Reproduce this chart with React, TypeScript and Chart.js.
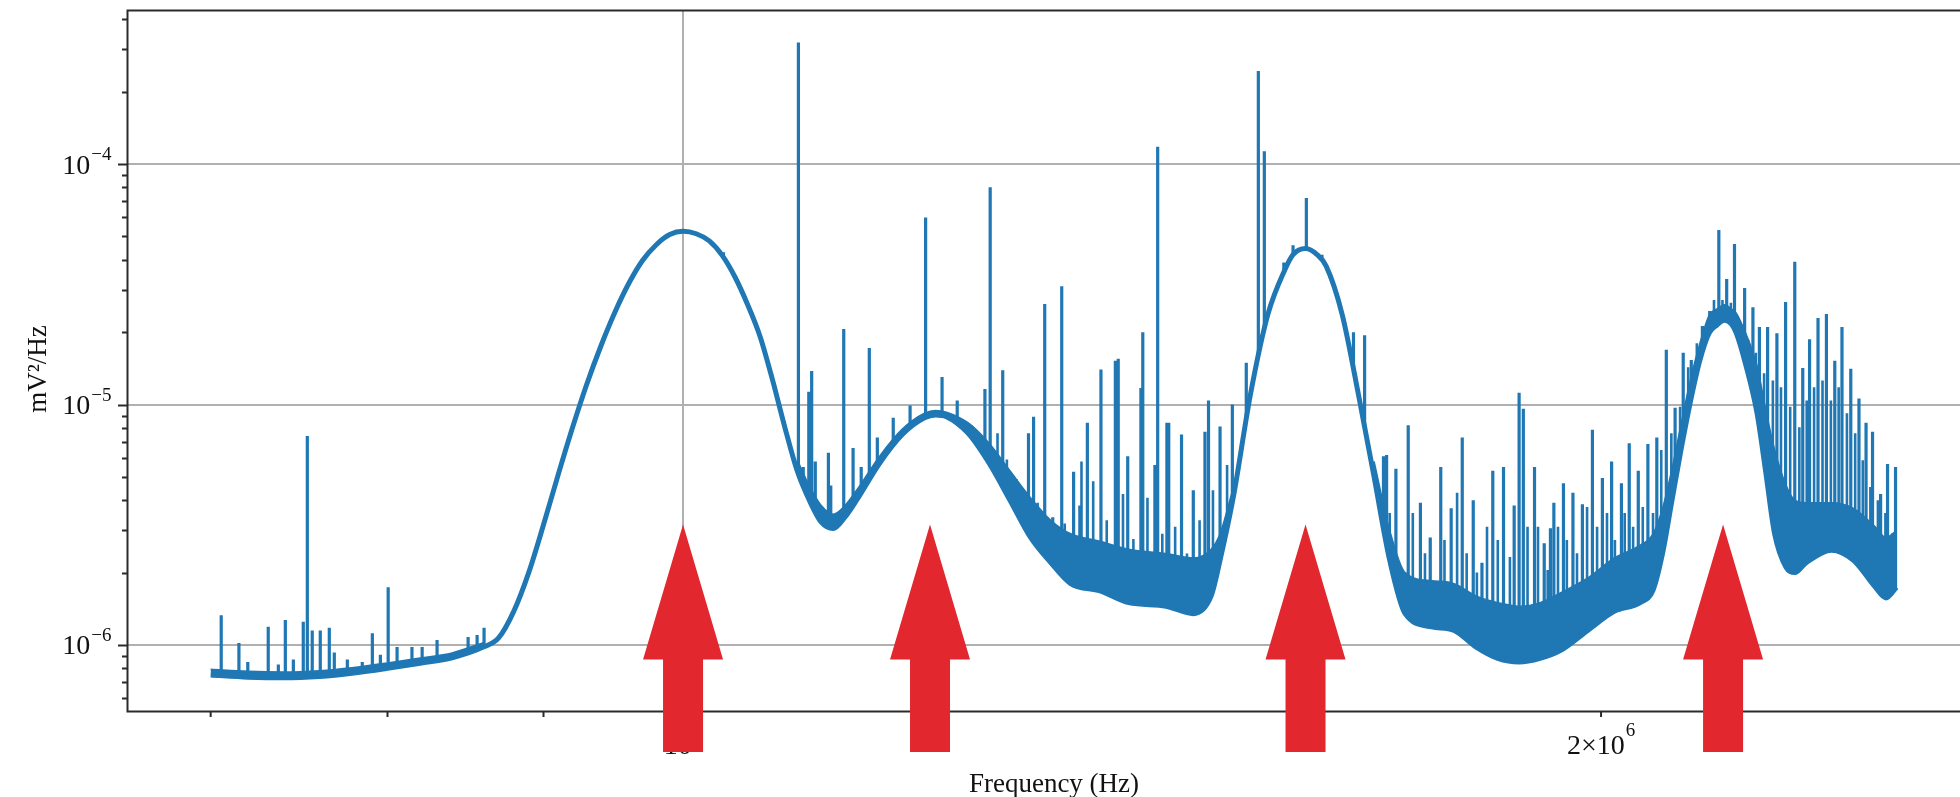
import React, { useEffect, useRef } from "react";
import { Chart, registerables } from "chart.js";

Chart.register(...registerables);

// ---------------- data ----------------
// smooth part of the spectrum
const baselineFreqHz = [
  0.7e6, 0.72e6, 0.74e6, 0.76e6, 0.78e6, 0.8e6, 0.82e6, 0.84e6, 0.86e6, 0.87e6,
  0.88e6, 0.89e6, 0.9e6, 0.91e6, 0.92e6, 0.93e6, 0.94e6, 0.95e6, 0.96e6, 0.97e6,
  0.98e6, 0.99e6, 1.0e6, 1.01e6, 1.02e6, 1.03e6, 1.04e6, 1.05e6, 1.06e6, 1.07e6,
  1.08e6, 1.09e6, 1.1e6, 1.11e6, 1.12e6, 1.13e6, 1.14e6, 1.16e6, 1.18e6, 1.2e6,
  1.21e6, 1.22e6, 1.24e6, 1.26e6, 1.28e6, 1.3e6, 1.32e6, 1.34e6, 1.37e6, 1.4e6,
  1.44e6, 1.47e6, 1.49e6, 1.5e6, 1.515e6, 1.535e6, 1.555e6, 1.575e6, 1.585e6, 1.6e6,
  1.614e6, 1.625e6, 1.645e6, 1.665e6, 1.685e6, 1.705e6, 1.725e6, 1.76e6, 1.79e6, 1.82e6,
  1.85e6, 1.88e6, 1.91e6, 1.94e6, 1.98e6, 2.02e6, 2.06e6, 2.08e6, 2.095e6, 2.11e6,
  2.125e6, 2.14e6, 2.155e6, 2.17e6, 2.183e6, 2.195e6, 2.207e6, 2.215e6, 2.23e6, 2.25e6,
  2.265e6, 2.28e6, 2.3e6, 2.315e6, 2.335e6, 2.38e6, 2.42e6, 2.46e6, 2.48e6, 2.5e6,
];
const baselinePsd = [
  7.5e-7, 7.35e-7, 7.3e-7, 7.4e-7, 7.65e-7, 8.0e-7, 8.4e-7, 8.85e-7, 9.8e-7, 1.07e-6,
  1.38e-6, 2.0e-6, 3.16e-6, 5.1e-6, 8.04e-6, 1.22e-5, 1.76e-5, 2.43e-5, 3.2e-5, 3.98e-5,
  4.62e-5, 5.09e-5, 5.25e-5, 5.13e-5, 4.79e-5, 4.17e-5, 3.39e-5, 2.6e-5, 1.91e-5, 1.26e-5,
  8.0e-6, 5.3e-6, 4.0e-6, 3.24e-6, 3.05e-6, 3.4e-6, 4.0e-6, 5.7e-6, 7.5e-6, 8.8e-6,
  9.05e-6, 8.9e-6, 7.6e-6, 5.7e-6, 4.0e-6, 2.8e-6, 2.2e-6, 1.8e-6, 1.68e-6, 1.5e-6,
  1.45e-6, 1.35e-6, 1.6e-6, 2.25e-6, 4.1e-6, 1.11e-5, 2.36e-5, 3.62e-5, 4.2e-5, 4.45e-5,
  4.2e-5, 3.77e-5, 2.36e-5, 1.11e-5, 5.0e-6, 2.25e-6, 1.35e-6, 1.19e-6, 1.15e-6, 9.8e-7,
  8.8e-7, 8.5e-7, 8.8e-7, 9.5e-7, 1.15e-6, 1.38e-6, 1.5e-6, 1.69e-6, 2.4e-6, 4.0e-6,
  6.6e-6, 1.04e-5, 1.53e-5, 1.98e-5, 2.14e-5, 2.24e-5, 2.16e-5, 1.98e-5, 1.49e-5, 9.2e-6,
  5.2e-6, 2.9e-6, 2.1e-6, 2.0e-6, 2.2e-6, 2.48e-6, 2.25e-6, 1.74e-6, 1.57e-6, 1.74e-6,
];

// top of the dense harmonic "grass" that sits on the curve
const grassLowFreqHz = [0.7e6, 0.72e6, 0.74e6, 0.76e6, 0.78e6, 0.8e6, 0.82e6, 0.84e6, 0.86e6];
const grassLowPsd = [7.9e-7, 7.75e-7, 7.7e-7, 7.8e-7, 8.05e-7, 8.4e-7, 8.8e-7, 9.25e-7, 1.02e-6];
const grassAFreqHz = [
  1.09e6, 1.1e6, 1.11e6, 1.12e6, 1.13e6, 1.14e6, 1.16e6, 1.18e6, 1.2e6, 1.21e6,
  1.22e6, 1.24e6, 1.26e6, 1.28e6, 1.3e6, 1.32e6, 1.34e6, 1.37e6, 1.4e6, 1.44e6,
  1.47e6, 1.49e6, 1.5e6, 1.515e6,
];
const grassAPsd = [
  5.9e-6, 4.6e-6, 3.8e-6, 3.5e-6, 3.8e-6, 4.4e-6, 6.1e-6, 7.9e-6, 9.2e-6, 9.45e-6,
  9.3e-6, 8.4e-6, 6.9e-6, 5.3e-6, 4.1e-6, 3.3e-6, 2.9e-6, 2.7e-6, 2.5e-6, 2.4e-6,
  2.3e-6, 2.5e-6, 2.9e-6, 4.5e-6,
];
const grassBFreqHz = [
  1.685e6, 1.705e6, 1.725e6, 1.76e6, 1.79e6, 1.82e6, 1.85e6, 1.88e6, 1.91e6, 1.94e6,
  1.98e6, 2.02e6, 2.06e6, 2.08e6, 2.095e6, 2.11e6, 2.125e6, 2.14e6, 2.155e6, 2.17e6,
  2.183e6, 2.195e6, 2.207e6, 2.215e6, 2.23e6, 2.25e6, 2.265e6, 2.28e6, 2.3e6, 2.315e6,
  2.335e6, 2.38e6, 2.42e6, 2.46e6, 2.48e6, 2.5e6,
];
const grassBPsd = [
  5.8e-6, 3.0e-6, 2.0e-6, 1.85e-6, 1.8e-6, 1.6e-6, 1.5e-6, 1.45e-6, 1.5e-6, 1.65e-6,
  1.9e-6, 2.3e-6, 2.6e-6, 2.9e-6, 3.7e-6, 5.4e-6, 8.4e-6, 1.28e-5, 1.8e-5, 2.35e-5,
  2.5e-5, 2.6e-5, 2.5e-5, 2.4e-5, 2.0e-5, 1.45e-5, 9.5e-6, 6.5e-6, 4.6e-6, 4.0e-6,
  3.9e-6, 3.9e-6, 3.7e-6, 3.1e-6, 2.8e-6, 3.0e-6,
];

// narrow spectral lines: frequency and top value
const spikeFreqHz = [
  0.7056e6, 0.7151e6, 0.7199e6, 0.7311e6, 0.7367e6, 0.7406e6, 0.7451e6, 0.7507e6, 0.753e6, 0.7558e6,
  0.7604e6, 0.7656e6, 0.7685e6, 0.7761e6, 0.7849e6, 0.7909e6, 0.7957e6, 0.8004e6, 0.8058e6, 0.8149e6,
  0.8212e6, 0.8305e6, 0.8502e6, 0.856e6, 0.8605e6,
  1.031e6,
  1.091e6, 1.095e6, 1.0996e6, 1.102e6, 1.105e6, 1.116e6, 1.118e6, 1.129e6, 1.137e6, 1.144e6,
  1.151e6, 1.158e6, 1.172e6, 1.187e6, 1.201e6, 1.216e6, 1.23e6, 1.243e6, 1.256e6, 1.261e6,
  1.273e6, 1.286e6, 1.298e6, 1.303e6, 1.314e6, 1.322e6, 1.331e6, 1.343e6, 1.357e6, 1.371e6,
  1.386e6, 1.389e6, 1.399e6, 1.413e6, 1.415e6, 1.428e6, 1.431e6, 1.441e6, 1.443e6, 1.457e6,
  1.47e6, 1.483e6, 1.487e6, 1.5e6, 1.514e6, 1.53e6, 1.544e6, 1.551e6, 1.574e6, 1.585e6,
  1.601e6, 1.62e6, 1.63e6, 1.659e6, 1.673e6, 1.697e6, 1.701e6, 1.713e6, 1.729e6, 1.745e6,
  1.758e6, 1.772e6, 1.786e6, 1.801e6, 1.816e6, 1.828e6, 1.843e6, 1.858e6, 1.873e6, 1.88e6,
  1.886e6, 1.902e6, 1.916e6, 1.925e6, 1.93e6, 1.944e6, 1.958e6, 1.972e6, 1.987e6, 2.002e6,
  2.016e6, 2.031e6, 2.043e6, 2.057e6, 2.072e6, 2.086e6, 2.101e6, 2.115e6, 2.128e6, 2.141e6,
  2.159e6, 2.171e6, 2.186e6, 2.199e6, 2.212e6, 2.229e6, 2.243e6, 2.254e6, 2.268e6, 2.284e6,
  2.299e6, 2.315e6, 2.329e6, 2.341e6, 2.356e6, 2.371e6, 2.386e6, 2.399e6, 2.415e6, 2.43e6,
  2.443e6, 2.455e6, 2.47e6, 2.483e6, 2.498e6,
];
const spikePsd = [
  1.33e-6, 1.02e-6, 8.5e-7, 1.19e-6, 8.3e-7, 1.27e-6, 8.7e-7, 1.25e-6, 7.4e-6, 1.15e-6,
  1.15e-6, 1.18e-6, 9.3e-7, 8.7e-7, 8.5e-7, 1.12e-6, 9.1e-7, 1.74e-6, 9.8e-7, 9.8e-7,
  9.8e-7, 1.05e-6, 1.08e-6, 1.1e-6, 1.18e-6,
  4.3e-5,
  3.2e-4, 5.5e-6, 1.13e-5, 1.38e-5, 5.8e-6, 6.3e-6, 4.6e-6, 2.06e-5, 6.6e-6, 5.5e-6,
  1.72e-5, 7.3e-6, 8.8e-6, 9.9e-6, 6.0e-5, 1.3e-5, 1.04e-5, 8.2e-6, 1.16e-5, 8.0e-5,
  1.39e-5, 4.9e-6, 7.6e-6, 8.9e-6, 2.62e-5, 3.4e-6, 3.1e-5, 5.25e-6, 8.4e-6, 1.4e-5,
  1.52e-5, 1.55e-5, 6.1e-6, 1.17e-5, 2.0e-5, 5.6e-6, 1.18e-4, 8.4e-6, 8.4e-6, 7.5e-6,
  4.4e-6, 7.7e-6, 1.04e-5, 8.1e-6, 1.0e-5, 1.49e-5, 2.44e-4, 1.13e-4, 3.9e-5, 4.6e-5,
  7.23e-5, 4.2e-5, 3.4e-5, 2.0e-5, 1.94e-5, 6.1e-6, 6.17e-6, 5.4e-6, 8.2e-6, 3.9e-6,
  2.8e-6, 5.5e-6, 3.7e-6, 7.3e-6, 4.0e-6, 2.2e-6, 5.3e-6, 5.5e-6, 3.8e-6, 1.12e-5,
  9.6e-6, 5.5e-6, 2.65e-6, 3.06e-6, 3.9e-6, 4.7e-6, 4.3e-6, 3.85e-6, 7.85e-6, 4.95e-6,
  5.8e-6, 4.7e-6, 6.9e-6, 5.3e-6, 6.85e-6, 7.3e-6, 1.69e-5, 9.7e-6, 1.64e-5, 1.53e-5,
  2.12e-5, 2.45e-5, 5.32e-5, 3.33e-5, 4.65e-5, 3.05e-5, 2.54e-5, 2.1e-5, 2.1e-5, 1.98e-5,
  2.67e-5, 3.92e-5, 1.42e-5, 1.87e-5, 2.29e-5, 2.38e-5, 1.52e-5, 2.1e-5, 1.41e-5, 1.06e-5,
  8.4e-6, 7.7e-6, 4.25e-6, 5.66e-6, 5.5e-6,
];

// weaker lines of the harmonic forest
const minorLineFreqHz = [
  1.268e6, 1.277e6, 1.292e6, 1.307e6, 1.334e6, 1.346e6, 1.351e6,
  1.349e6, 1.363e6, 1.377e6, 1.394e6, 1.405e6, 1.42e6, 1.436e6, 1.45e6, 1.463e6, 1.477e6,
  1.492e6, 1.508e6,
  1.705e6, 1.72e6, 1.735e6, 1.751e6, 1.777e6, 1.794e6, 1.807e6, 1.821e6, 1.835e6, 1.85e6,
  1.867e6, 1.892e6, 1.907e6, 1.921e6, 1.936e6, 1.949e6, 1.964e6, 1.979e6, 1.994e6, 2.009e6,
  2.021e6, 2.036e6, 2.049e6, 2.064e6, 2.08e6, 2.093e6, 2.109e6, 2.123e6, 2.136e6, 2.15e6,
  2.165e6, 2.178e6, 2.192e6, 2.206e6, 2.22e6, 2.235e6, 2.248e6, 2.262e6, 2.277e6, 2.291e6,
  2.307e6, 2.323e6, 2.336e6, 2.349e6, 2.364e6, 2.379e6, 2.393e6, 2.408e6, 2.423e6, 2.437e6,
  2.451e6, 2.465e6, 2.479e6, 2.493e6,
];
const minorLinePsd = [
  7.6e-6, 5.9e-6, 4.4e-6, 3.9e-6, 3.2e-6, 2.6e-6, 5.8e-6,
  3.8e-6, 4.8e-6, 3.3e-6, 4.25e-6, 2.76e-6, 4.1e-6, 2.9e-6, 3.1e-6, 2.4e-6, 3.3e-6,
  4.4e-6, 5.6e-6,
  3.54e-6, 2.0e-6, 3.54e-6, 2.41e-6, 2.73e-6, 4.3e-6, 2.41e-6, 2.0e-6, 3.1e-6, 2.73e-6,
  2.32e-6, 3.1e-6, 3.1e-6, 2.05e-6, 3.1e-6, 2.73e-6, 2.41e-6, 3.75e-6, 3.1e-6, 3.54e-6,
  2.73e-6, 3.54e-6, 3.1e-6, 3.75e-6, 3.54e-6, 6.47e-6, 7.6e-6, 9.78e-6, 1.43e-5, 1.8e-5,
  1.86e-5, 2.72e-5, 2.72e-5, 2.65e-5, 2.18e-5, 1.86e-5, 1.64e-5, 1.35e-5, 1.26e-5, 1.18e-5,
  9.78e-6, 8.05e-6, 1.04e-5, 1.18e-5, 1.26e-5, 1.04e-5, 1.18e-5, 9.2e-6, 7.6e-6, 5.87e-6,
  4.54e-6, 4.0e-6, 3.54e-6, 2.92e-6,
];

// annotation arrows (frequencies they point at)
const arrowFreqHz = [1.0e6, 1.205e6, 1.6e6, 2.193e6];
const arrowTipPsd = 3.17e-6;

// axes
const X_MIN = 6.574e5;
const X_MAX = 2.6226e6;
const Y_MIN = 5.29e-7;
const Y_MAX = 4.35e-4;
const xGridValues = [1e6];
const yGridValues = [1e-6, 1e-5, 1e-4];
const xMajorTickValues = [1e6];
const xMinorTickValues = [7e5, 8e5, 9e5, 2e6];
const yMajorTickValues = [1e-6, 1e-5, 1e-4];
const yMinorTickValues = [
  6e-7, 7e-7, 8e-7, 9e-7,
  2e-6, 3e-6, 4e-6, 5e-6, 6e-6, 7e-6, 8e-6, 9e-6,
  2e-5, 3e-5, 4e-5, 5e-5, 6e-5, 7e-5, 8e-5, 9e-5,
  2e-4, 3e-4, 4e-4,
];
const xTickValues = [1e6, 2e6];
const xTickBases = ["10", "2×10"];
const xTickExps = ["6", "6"];
const yTickValues = [1e-4, 1e-5, 1e-6];
const yTickBases = ["10", "10", "10"];
const yTickExps = ["−4", "−5", "−6"];
const xTitle = "Frequency (Hz)";
const yTitle = "mV²/Hz";

// ---------------- styles ----------------
const W = 1960;
const H = 797;
const BLUE = "#1f77b4";
const RED = "#e3272f";
const GRID = "#b0b0b0";
const SPINE = "#2b2b2b";
const SERIF = '"Liberation Serif", "Times New Roman", "DejaVu Serif", serif';

function baselineAt(f: number): number {
  const lf = Math.log10(f);
  for (let i = 0; i < baselineFreqHz.length - 1; i++) {
    const f0 = baselineFreqHz[i];
    const f1 = baselineFreqHz[i + 1];
    if (f >= f0 && f <= f1) {
      const t = (lf - Math.log10(f0)) / (Math.log10(f1) - Math.log10(f0));
      const l0 = Math.log10(baselinePsd[i]);
      const l1 = Math.log10(baselinePsd[i + 1]);
      return Math.pow(10, l0 + t * (l1 - l0));
    }
  }
  return baselinePsd[baselinePsd.length - 1];
}

function linePoints(freqs: number[], tops: number[]) {
  const pts: { x: number; y: number | null }[] = [];
  freqs.forEach((f, i) => {
    pts.push({ x: f, y: baselineAt(f) });
    pts.push({ x: f, y: tops[i] });
    pts.push({ x: f, y: null });
  });
  return pts;
}

const axesPlugin = {
  id: "mplAxes",
  afterDatasetsDraw(chart: any) {
    const { ctx, chartArea: a, scales } = chart;
    const x = scales.x;
    const y = scales.y;
    ctx.save();
    // spines (top, left, bottom)
    ctx.strokeStyle = SPINE;
    ctx.lineWidth = 2;
    ctx.beginPath();
    ctx.moveTo(a.right + 4, a.top);
    ctx.lineTo(a.left, a.top);
    ctx.lineTo(a.left, a.bottom);
    ctx.lineTo(a.right + 4, a.bottom);
    ctx.stroke();
    // tick marks
    ctx.beginPath();
    yMajorTickValues.forEach((v) => {
      const py = Math.round(y.getPixelForValue(v)) + 0.5;
      ctx.moveTo(a.left, py);
      ctx.lineTo(a.left - 9.5, py);
    });
    yMinorTickValues.forEach((v) => {
      const py = Math.round(y.getPixelForValue(v)) + 0.5;
      ctx.moveTo(a.left, py);
      ctx.lineTo(a.left - 5.5, py);
    });
    xMajorTickValues.forEach((v) => {
      const px = x.getPixelForValue(v);
      ctx.moveTo(px, a.bottom);
      ctx.lineTo(px, a.bottom + 9.5);
    });
    xMinorTickValues.forEach((v) => {
      const px = x.getPixelForValue(v);
      ctx.moveTo(px, a.bottom);
      ctx.lineTo(px, a.bottom + 5.5);
    });
    ctx.stroke();

    // tick labels
    ctx.fillStyle = "#111";
    ctx.textBaseline = "alphabetic";
    ctx.textAlign = "left";
    const baseFont = "28px " + SERIF;
    const expFont = "19px " + SERIF;
    yTickValues.forEach((v, i) => {
      const py = y.getPixelForValue(v);
      ctx.font = expFont;
      const we = ctx.measureText(yTickExps[i]).width;
      ctx.font = baseFont;
      const wb = ctx.measureText(yTickBases[i]).width;
      const right = a.left - 16;
      ctx.fillText(yTickBases[i], right - we - wb - 1, py + 9.5);
      ctx.font = expFont;
      ctx.fillText(yTickExps[i], right - we, py - 4);
    });
    xTickValues.forEach((v, i) => {
      const px = x.getPixelForValue(v);
      ctx.font = expFont;
      const we = ctx.measureText(xTickExps[i]).width;
      ctx.font = baseFont;
      const wb = ctx.measureText(xTickBases[i]).width;
      const left = px - (wb + we + 1) / 2;
      ctx.fillText(xTickBases[i], left, a.bottom + 42);
      ctx.font = expFont;
      ctx.fillText(xTickExps[i], left + wb + 1, a.bottom + 24);
    });

    // axis titles
    ctx.font = "27px " + SERIF;
    ctx.textAlign = "center";
    ctx.fillText(xTitle, 1054, H - 5);
    ctx.save();
    ctx.translate(46, 369);
    ctx.rotate(-Math.PI / 2);
    ctx.fillText(yTitle, 0, 0);
    ctx.restore();
    ctx.restore();
  },
};

const arrowPlugin = {
  id: "arrows",
  afterDraw(chart: any) {
    const { ctx, chartArea: a, scales } = chart;
    const x = scales.x;
    const y = scales.y;
    const tipY = y.getPixelForValue(arrowTipPsd);
    const headLen = 135;
    const headHalf = 40;
    const shaftHalf = 20;
    const shaftBottom = a.bottom + 40.5;
    ctx.save();
    ctx.fillStyle = RED;
    arrowFreqHz.forEach((f) => {
      const px = x.getPixelForValue(f);
      ctx.beginPath();
      ctx.moveTo(px, tipY);
      ctx.lineTo(px + headHalf, tipY + headLen);
      ctx.lineTo(px + shaftHalf, tipY + headLen);
      ctx.lineTo(px + shaftHalf, shaftBottom);
      ctx.lineTo(px - shaftHalf, shaftBottom);
      ctx.lineTo(px - shaftHalf, tipY + headLen);
      ctx.lineTo(px - headHalf, tipY + headLen);
      ctx.closePath();
      ctx.fill();
    });
    ctx.restore();
  },
};

function curveDataset(label: string, freqs: number[], vals: number[], width: number, fill: any) {
  return {
    label,
    data: freqs.map((f, i) => ({ x: f, y: vals[i] })),
    borderColor: BLUE,
    backgroundColor: BLUE,
    borderWidth: width,
    pointRadius: 0,
    cubicInterpolationMode: "monotone",
    fill,
    borderJoinStyle: "round",
  };
}

function linesDataset(label: string, freqs: number[], tops: number[], width: number) {
  return {
    label,
    data: linePoints(freqs, tops),
    borderColor: BLUE,
    backgroundColor: BLUE,
    borderWidth: width,
    pointRadius: 0,
    tension: 0,
    fill: false,
    spanGaps: false,
    borderCapStyle: "butt",
  };
}

export default function App() {
  const canvasRef = useRef<HTMLCanvasElement | null>(null);

  useEffect(() => {
    const canvas = canvasRef.current;
    if (!canvas) return;

    const chart = new Chart(canvas, {
      type: "line",
      data: {
        datasets: [
          curveDataset("PSD", baselineFreqHz, baselinePsd, 5, false),
          curveDataset("harmonics low", grassLowFreqHz, grassLowPsd, 2, 0),
          curveDataset("harmonics A", grassAFreqHz, grassAPsd, 1.5, 0),
          curveDataset("harmonics B", grassBFreqHz, grassBPsd, 1.5, 0),
          linesDataset("weak lines", minorLineFreqHz, minorLinePsd, 2.6),
          linesDataset("lines", spikeFreqHz, spikePsd, 3.2),
        ] as any,
      },
      options: {
        responsive: false,
        maintainAspectRatio: false,
        animation: false,
        events: [],
        layout: { padding: { top: 10.5, right: 0, left: 0, bottom: 0 } },
        plugins: {
          legend: { display: false },
          tooltip: { enabled: false },
        },
        scales: {
          x: {
            type: "logarithmic",
            min: X_MIN,
            max: X_MAX,
            bounds: "data",
            afterBuildTicks: (s: any) => {
              s.ticks = xGridValues.map((v) => ({ value: v }));
            },
            afterFit: (s: any) => {
              s.height = H - 711.5;
            },
            ticks: { display: false },
            grid: { color: GRID, lineWidth: 2, drawTicks: false },
            border: { display: false },
          },
          y: {
            type: "logarithmic",
            min: Y_MIN,
            max: Y_MAX,
            bounds: "data",
            afterBuildTicks: (s: any) => {
              s.ticks = yGridValues.map((v) => ({ value: v }));
            },
            afterFit: (s: any) => {
              s.width = 127.5;
            },
            ticks: { display: false },
            grid: { color: GRID, lineWidth: 2, drawTicks: false },
            border: { display: false },
          },
        },
      } as any,
      plugins: [axesPlugin, arrowPlugin],
    });

    return () => {
      chart.destroy();
    };
  }, []);

  return (
    <div
      style={{
        position: "fixed",
        left: 0,
        top: 0,
        width: W + "px",
        height: H + "px",
        overflow: "hidden",
        background: "#ffffff",
      }}
    >
      <canvas ref={canvasRef} width={W} height={H} style={{ display: "block" }} />
    </div>
  );
}
